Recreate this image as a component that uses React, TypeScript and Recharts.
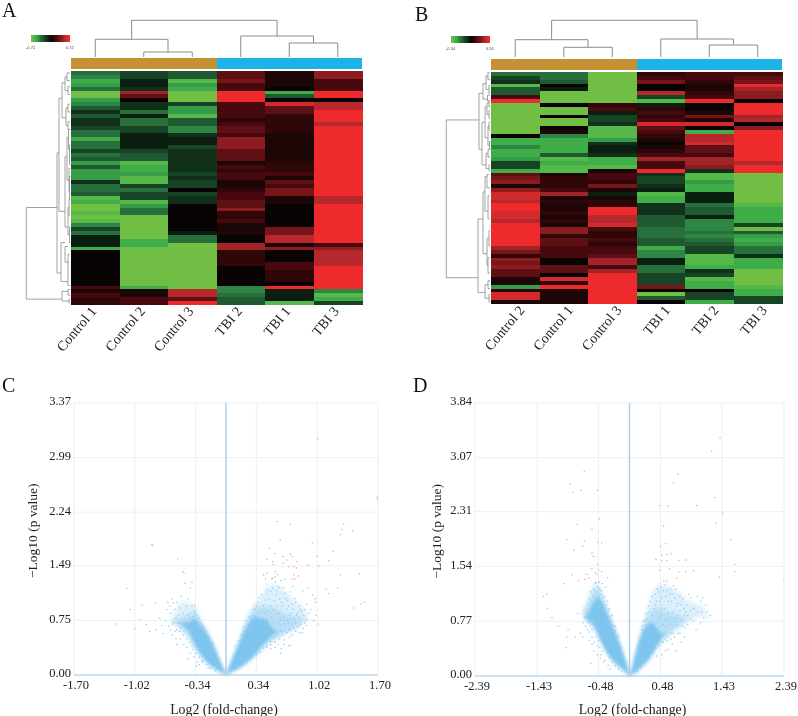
import React from "react";
import {
  Area,
  Bar,
  BarChart,
  CartesianGrid,
  Cell,
  ComposedChart,
  ReferenceLine,
  Scatter,
  ScatterChart,
  XAxis,
  YAxis,
} from "recharts";

const SERIF = '"Liberation Serif", serif';

// heat values run from -10 (full green) through 0 (black) to 10 (full red)
const heatRamp = [
  "#70bf44", "#55b848", "#3fae49", "#379c47", "#2e8644", "#27703b", "#205a32", "#184426", "#10301a", "#0a1f10",
  "#080404",
  "#1c0606", "#300708", "#47090d", "#5f1014", "#761619", "#8c1c20", "#a12428", "#b6282c", "#d22a2d", "#ee2a2d",
];
const legendSteps = [-10, -9, -8, -7, -6, -5, -4, -3, -2, -1, 0, 1, 2, 3, 4, 5, 6, 7, 8, 9, 10];
const groupColors: Record<string, string> = { Control: "#c49135", TBI: "#1cb4e8" };

const namesA = ["Control 1", "Control 2", "Control 3", "TBI 2", "TBI 1", "TBI 3"];
const groupsA = ["Control", "Control", "Control", "TBI", "TBI", "TBI"];
const a_control1 = [
  -5, -6, -8, -7, -5, -10, -10, -7, -6, -4,
  -2, -4, -2, -2, -3, -5, -5, -8, -5, -5,
  -3, -5, -4, -7, -4, -7, -7, -7, -2, -5,
  -5, -4, -9, -8, -10, -10, -9, -10, -9, -6,
  -3, -5, -1, -1, -1, -8, 0, 0, 0, 0,
  0, 0, 0, 0, 0, 3, 1, 3, 2, 2,
];
const a_control2 = [
  -3, -3, -1, -1, -2, 7, 4, 0, -2, -2,
  -5, -1, -5, -5, -3, -3, -1, -1, -1, -1,
  -3, -4, -4, -9, -8, -8, -7, -9, -9, -3,
  -5, -3, -3, -9, -7, -5, -5, -10, -10, -10,
  -10, -10, -10, -8, -8, -10, -10, -10, -10, -10,
  -10, -10, -10, -10, -10, -8, 1, 1, 3, 3,
];
const a_control3 = [
  -4, -4, -9, -7, -8, -10, -10, -10, -3, -7,
  -7, -9, -4, -4, -6, -6, -2, -1, -1, -3,
  -2, -2, -2, -2, -2, -2, -3, -2, -3, -3,
  0, -3, -2, -2, 0, 0, 0, 0, 0, 0,
  0, -1, -5, -5, -10, -10, -10, -10, -10, -10,
  -10, -10, -10, -10, -10, -10, 8, 8, 4, 10,
];
const a_tbi2 = [
  4, 4, 5, 3, 3, 10, 10, 10, 3, 3,
  3, 3, 2, 3, 4, 4, 3, 6, 6, 6,
  4, 4, 4, 1, 3, 2, 3, 3, 1, 1,
  2, 3, 3, 4, 4, 6, 2, 2, 3, 1,
  1, 1, 0, 0, 7, 7, 2, 2, 2, 2,
  0, 0, 0, 0, 0, -6, -6, -5, -4, -4,
];
const a_tbi1 = [
  1, 1, 1, 1, 0, -8, -4, 0, 9, 4,
  4, 2, 2, 2, 2, 2, 1, 1, 1, 1,
  1, 1, 1, 2, 2, 2, 3, 1, 4, 3,
  5, 5, 1, 1, 0, 0, 0, 0, 0, 0,
  5, 5, 8, 8, 1, 6, 0, 0, 0, 3,
  3, 2, 2, 2, 0, 10, -1, -1, -1, -9,
];
const a_tbi3 = [
  6, 6, 3, 3, 3, 10, 10, 0, 8, 8,
  10, 10, 10, 8, 10, 10, 10, 10, 10, 10,
  10, 10, 10, 10, 10, 10, 10, 10, 10, 10,
  10, 10, 8, 8, 10, 10, 10, 10, 10, 10,
  10, 10, 10, 10, 3, 6, 8, 8, 8, 8,
  10, 10, 10, 10, 10, 10, -6, -9, -8, -3,
];

const namesB = ["Control 2", "Control 1", "Control 3", "TBI 1", "TBI 2", "TBI 3"];
const groupsB = ["Control", "Control", "Control", "TBI", "TBI", "TBI"];
const b_control2 = [
  -5, -3, -2, -9, -4, -4, 3, 10, -10, -10,
  -10, -10, -10, -10, -10, -10, 0, -8, -8, -6,
  -8, -8, -7, -3, -3, -8, 4, 5, 6, 1,
  6, 9, 9, 8, 10, 10, 9, 9, 8, 10,
  10, 10, 10, 10, 10, 7, 5, 2, 6, 5,
  6, 4, 4, 1, 1, -7, 2, 9, 9, 1,
];
const b_control1 = [
  -5, -5, -4, 0, -1, -10, -10, -10, 0, -10,
  -10, 0, -10, -10, 0, 1, -6, -8, -8, -8,
  -8, -4, -9, -8, -9, -9, 1, 2, 2, 2,
  3, 7, 1, 2, 1, 1, 2, 1, 2, 1,
  6, 6, 2, 4, 4, 3, 3, 3, 0, 0,
  4, 4, 0, 9, 2, 10, 1, 1, 1, 1,
];
const b_control3 = [
  -10, -10, -10, -10, -10, -10, -10, -10, 2, 3,
  -1, -3, -3, -2, -9, -9, -9, -7, -2, -1,
  -1, -2, -8, -8, -9, 1, 3, 3, 2, 5,
  1, -1, 1, 2, 2, 10, 10, 8, 8, 9,
  3, 2, 2, 3, 2, 3, 3, 4, 7, 7,
  3, 7, 10, 10, 10, 10, 10, 10, 10, 10,
];
const b_tbi1 = [
  2, 3, 5, 0, 0, 8, -3, -9, -1, 2,
  3, 2, 3, 9, 4, 3, 2, 1, 0, 1,
  2, 3, 7, 3, 3, 10, -2, -3, -3, -2,
  -1, -9, -8, -8, -2, -2, -2, -4, -4, -4,
  -5, -5, -5, -4, -4, -8, -6, -6, -1, -1,
  -5, -5, -3, -3, -3, 5, 0, -10, -4, 0,
];
const b_tbi2 = [
  3, 3, 2, 1, 1, 2, 3, 10, 0, 0,
  1, 5, 1, 9, 0, -8, 8, 8, 9, 4,
  4, 3, 7, 7, 6, -2, -9, -9, -7, -8,
  -8, -1, -1, -1, -5, -4, -4, -1, -6, -6,
  -6, -5, -6, -5, -4, -3, -3, -9, -9, -9,
  -8, -2, -3, -9, -8, -8, 0, -3, -3, -8,
];
const b_tbi3 = [
  3, 4, 5, 10, 7, 6, 6, 0, 10, 10,
  10, 7, 8, 0, 6, 10, 10, 10, 10, 10,
  10, 10, 10, 8, 10, 10, -10, -10, -10, -10,
  -10, -10, -10, -10, -9, -8, -8, -8, -8, -3,
  -10, -4, -7, -8, -7, -5, -5, -2, -8, -8,
  -8, -10, -10, -10, -10, -9, -8, -8, -3, -3,
];

// column tree merges: left column, left height, right column, right height, merge height
const colTreeA = [
  [1, 0, 2, 0, 5],
  [0, 0, 1.5, 5, 17.7],
  [4, 0, 5, 0, 14],
  [3, 0, 4.5, 14, 21],
  [0.75, 17.7, 3.75, 21, 36.7],
];
const colTreeB = [
  [1, 0, 2, 0, 9.7],
  [0, 0, 1.5, 9.7, 17.3],
  [4, 0, 5, 0, 12],
  [3, 0, 4.5, 12, 18],
  [0.75, 17.3, 3.75, 18, 36.7],
];

// row tree merges: merge depth, upper row, lower row, upper child depth, lower child depth
const rowTreeA = [
  [44.7, 35, 58.5, 14, 9],
  [14, 21, 51.8, 12, 10],
  [12, 7, 36, 9, 6],
  [9, 3, 12, 6, 5],
  [6, 1.5, 5, 4, 3],
  [4, 0.5, 2.5, 1, 1],
  [3, 4, 6, 1, 1],
  [5, 9.5, 14, 3, 3],
  [3, 8.5, 10.5, 1, 1],
  [3, 13, 15, 1, 1],
  [6, 22, 40, 4, 3],
  [4, 17, 28, 2.5, 2],
  [2.5, 15, 20, 1, 1],
  [2, 25, 31, 1, 1],
  [3, 35, 42, 2, 1.5],
  [2, 33, 37, 1, 1],
  [1.5, 40, 44, 0.5, 0.5],
  [1.5, 19, 24, 0.5, 0.5],
  [1.5, 27, 33, 0.5, 0.5],
  [10, 44, 54, 6, 3],
  [6, 45, 49, 3, 2],
  [3, 47, 55, 1.5, 1.5],
  [9, 56.5, 59, 3, 2],
  [3, 56, 57.5, 1, 1],
  [2, 58.5, 59.5, 1, 1],
];
const rowTreeB = [
  [44.7, 12.4, 53.2, 12, 13],
  [12, 5.5, 20, 8, 9],
  [8, 3, 7, 5, 3.5],
  [5, 1, 4.5, 3, 2],
  [3, 0, 2, 1, 1],
  [2, 3.5, 5.5, 1, 1],
  [3.5, 6, 7.5, 1, 1],
  [9, 13, 24, 6, 5],
  [6, 9, 17, 4, 3],
  [4, 8, 11, 2, 2],
  [2, 7.5, 9, 1, 1],
  [2, 10, 12, 1, 1],
  [3, 14, 19, 2, 1.5],
  [2, 13, 15, 1, 1],
  [1.5, 18, 20, 0.5, 0.5],
  [5, 21, 25, 3, 2],
  [3, 20, 22, 1, 1],
  [2, 24, 25.5, 1, 1],
  [13, 38, 57, 8, 6],
  [8, 31, 47, 6, 4],
  [6, 27, 36, 4, 3],
  [4, 26.5, 30, 2, 1],
  [3, 32, 38, 1.5, 1.5],
  [4, 43, 50, 2, 3],
  [2, 41, 45, 1, 1],
  [3, 48, 52, 1.5, 1],
  [6, 55, 58.5, 3, 2],
  [3, 54, 56, 1, 1],
  [2, 57.5, 59.5, 1, 1],
];

// volcano C
const xTicksC = [-1.7, -1.02, -0.34, 0.34, 1.02, 1.7];
const yTicksC = [0, 0.75, 1.5, 2.24, 2.99, 3.74];
const yLabelsC = ["0.00", "0.75", "1.49", "2.24", "2.99", "3.37"];
const bandXC = [-0.62, -0.52, -0.42, -0.345, -0.29, -0.21, -0.14, -0.065, 0, 0.06, 0.13, 0.22, 0.3, 0.38, 0.45, 0.55, 0.65, 0.75, 0.85, 0.92];
const coreLowC = [0.75, 0.72, 0.62, 0.41, 0.3, 0.18, 0.11, 0.05, 0, 0.05, 0.09, 0.17, 0.25, 0.37, 0.46, 0.58, 0.62, 0.65, 0.68, 0.7];
const coreHighC = [0.75, 0.72, 0.72, 0.78, 0.69, 0.57, 0.41, 0.18, 0, 0.18, 0.39, 0.64, 0.8, 0.78, 0.76, 0.6, 0.62, 0.65, 0.68, 0.7];
const midLowC = [0.75, 0.68, 0.55, 0.38, 0.27, 0.16, 0.09, 0.04, 0, 0.04, 0.08, 0.15, 0.24, 0.34, 0.42, 0.5, 0.58, 0.63, 0.72, 0.8];
const midHighC = [0.75, 0.76, 0.82, 0.85, 0.74, 0.58, 0.41, 0.18, 0, 0.18, 0.4, 0.7, 0.9, 0.95, 0.95, 0.92, 0.85, 0.8, 0.76, 0.8];
const cloudLowC = [0.75, 0.62, 0.5, 0.36, 0.25, 0.15, 0.08, 0.03, 0, 0.03, 0.07, 0.14, 0.22, 0.32, 0.4, 0.48, 0.55, 0.62, 0.7, 0.8];
const cloudHighC = [0.75, 1.0, 1.0, 0.95, 0.8, 0.6, 0.42, 0.19, 0, 0.19, 0.42, 0.75, 0.95, 1.05, 1.2, 1.25, 1.15, 1.05, 0.95, 0.8];
const bluePointsC = [
  [0.42, 0.95], [0.36, 1.0], [0.33, 0.9], [0.3, 0.82], [0.45, 1.12], [0.48, 1.05], [0.52, 1.2], [0.55, 1.28], [0.58, 1.22], [0.61, 1.3],
  [0.5, 0.95], [0.56, 1.1], [0.6, 1.05], [0.64, 1.2], [0.66, 1.12], [0.69, 1.02], [0.72, 1.14], [0.63, 0.95], [0.68, 0.9], [0.74, 0.98],
  [0.78, 1.0], [0.82, 0.95], [0.85, 0.88], [0.87, 0.82], [0.8, 0.85], [0.76, 0.78], [0.71, 0.82], [0.65, 0.8], [0.6, 0.85], [0.57, 0.95],
  [0.43, 0.85], [0.39, 0.88], [0.47, 0.88], [0.53, 0.9], [0.35, 0.78], [0.27, 0.72], [0.25, 0.68], [0.22, 0.7], [0.19, 0.6], [0.29, 0.62],
  [0.38, 0.72], [0.44, 0.7], [0.52, 0.72], [0.58, 0.7], [0.62, 0.68], [0.66, 0.7], [0.7, 0.72], [0.74, 0.7], [0.78, 0.72], [0.83, 0.78],
  [0.88, 0.72], [0.9, 0.68], [0.86, 0.64], [0.8, 0.66], [0.72, 0.62], [0.68, 0.58], [0.63, 0.55], [0.74, 0.55], [0.78, 0.6], [0.85, 0.58],
  [0.6, 0.5], [0.55, 0.45], [0.5, 0.42], [0.65, 0.48], [0.71, 0.52], [0.58, 0.42], [0.62, 0.36], [0.7, 0.4], [0.72, 0.41], [0.61, 0.3],
  [0.82, 0.58], [0.95, 0.9], [0.98, 0.75], [1.01, 0.82], [1.0, 1.05], [0.97, 1.1], [0.92, 1.2], [1.12, 1.18], [1.0, 1.0], [1.25, 1.2],
  [1.15, 1.12], [1.43, 0.92], [1.55, 1.0], [1.51, 0.98], [0.9, 0.97], [0.93, 0.85], [0.45, 1.25], [0.52, 1.33], [0.58, 1.38], [0.66, 1.32],
  [0.75, 1.22], [0.86, 1.16], [1.03, 0.7],
  [0.1, 0.4], [0.14, 0.47], [0.17, 0.55], [0.2, 0.66], [0.23, 0.74], [0.26, 0.8], [0.31, 0.9], [0.34, 0.95], [0.37, 1.06], [0.4, 1.1],
  [0.44, 1.03], [0.46, 1.17], [0.5, 1.15], [0.54, 1.02], [0.57, 1.16], [0.6, 1.2], [0.62, 1.0], [0.67, 1.05], [0.7, 0.95], [0.75, 0.9],
  [0.77, 1.05], [0.81, 0.8], [0.84, 0.7], [0.88, 0.9], [0.83, 0.9], [0.79, 0.82], [0.73, 0.85], [0.69, 0.75], [0.64, 0.75], [0.61, 0.78],
  [0.56, 0.85], [0.51, 0.8], [0.46, 0.78], [0.41, 0.8], [0.37, 0.85], [0.33, 0.8], [0.3, 0.72], [0.26, 0.6], [0.3, 0.26], [0.34, 0.28],
  [0.38, 0.32], [0.42, 0.37], [0.46, 0.4], [0.5, 0.46], [0.54, 0.52], [0.58, 0.55], [0.62, 0.6], [0.66, 0.6], [0.7, 0.62], [0.76, 0.64],
  [0.82, 0.68], [0.9, 0.76], [0.12, 0.1], [0.18, 0.13], [0.24, 0.18], [0.28, 0.22], [0.35, 0.3], [0.45, 0.38], [0.5, 0.36], [0.55, 0.38],
  [0.65, 0.42],
  [-0.6, 1.05], [-0.59, 0.99], [-0.57, 0.9], [-0.55, 1.0], [-0.52, 0.92], [-0.5, 1.08], [-0.46, 1.26], [-0.38, 1.28], [-0.4, 1.2], [-0.42, 1.05],
  [-0.35, 0.96], [-0.36, 0.88], [-0.38, 0.95], [-0.44, 0.95], [-0.48, 0.85], [-0.53, 0.82], [-0.56, 0.78], [-0.6, 0.7], [-0.62, 0.85], [-0.64, 0.67],
  [-0.7, 0.57], [-0.74, 0.78], [-0.79, 0.99], [-0.89, 0.69], [-0.85, 0.6], [-0.94, 0.96], [-0.96, 0.76], [-1.02, 0.64], [-1.07, 0.9], [-1.23, 0.7],
  [-0.66, 0.9], [-0.63, 0.95], [-0.58, 0.72], [-0.55, 0.62], [-0.52, 0.6], [-0.48, 0.55], [-0.56, 0.5], [-0.6, 0.55], [-0.47, 0.42], [-0.44, 0.38],
  [-0.4, 0.3], [-0.36, 0.25], [-0.42, 0.22], [-0.32, 0.18], [-0.3, 0.14], [-0.35, 0.85], [-0.4, 0.85], [-0.43, 0.82], [-0.46, 0.78], [-0.3, 0.78],
  [-0.28, 0.72], [-0.25, 0.66], [-0.22, 0.6], [-0.18, 0.5], [-0.15, 0.44], [-0.5, 0.7], [-0.54, 0.72], [-0.45, 0.66], [-0.2, 0.1], [-0.27, 0.2],
  [-0.38, 0.4],
  [-0.08, 0.22], [-0.11, 0.3], [-0.16, 0.42], [-0.2, 0.52], [-0.24, 0.63], [-0.27, 0.68], [-0.31, 0.74], [-0.33, 0.82], [-0.37, 0.8], [-0.41, 0.78],
  [-0.45, 0.72], [-0.49, 0.78], [-0.51, 0.65], [-0.47, 0.6], [-0.44, 0.5], [-0.4, 0.45], [-0.37, 0.35], [-0.43, 0.62], [-0.39, 0.58], [-0.34, 0.3],
  [-0.3, 0.24], [-0.26, 0.18], [-0.22, 0.14], [-0.17, 0.09], [-0.12, 0.06], [-0.51, 0.5], [-0.53, 0.72], [-0.57, 0.6], [-0.62, 0.62], [-0.68, 0.75],
  [-0.72, 0.68], [-0.65, 1.0], [-0.78, 0.62], [-0.55, 0.42], [-0.33, 0.12],
];
const redPointsC = [
  [1.024, 3.25], [1.696, 2.45], [1.69, 2.42], [1.315, 2.08], [1.297, 2.0], [1.28, 1.93], [1.416, 1.98], [0.569, 2.11], [0.718, 2.07], [0.606, 1.86],
  [0.965, 1.82], [1.2, 1.7], [0.487, 1.74], [0.55, 1.67], [0.46, 1.59], [0.52, 1.56], [0.53, 1.52], [0.64, 1.63], [0.72, 1.66], [0.74, 1.63],
  [0.68, 1.58], [0.64, 1.54], [0.7, 1.49], [0.76, 1.49], [0.79, 1.56], [0.92, 1.51], [1.02, 1.63], [1.04, 1.5], [1.15, 1.57], [1.28, 1.38],
  [1.49, 1.39], [0.46, 1.4], [0.42, 1.38], [0.55, 1.42], [0.55, 1.35], [0.51, 1.32], [0.44, 1.32], [0.76, 1.38], [0.79, 1.47], [0.74, 1.32],
  [0.77, 1.32], [0.81, 1.36], [-0.83, 1.79], [-0.82, 1.78], [-0.54, 1.6], [-0.483, 1.42], [-0.47, 1.4], [-1.11, 1.19],
];

// volcano D
const xTicksD = [-2.39, -1.43, -0.48, 0.48, 1.43, 2.39];
const yTicksD = [0, 0.77, 1.54, 2.31, 3.07, 3.84];
const yLabelsD = ["0.00", "0.77", "1.54", "2.31", "3.07", "3.84"];
const bandXD = [-0.72, -0.65, -0.55, -0.47, -0.4, -0.3, -0.2, -0.1, -0.04, 0, 0.05, 0.12, 0.2, 0.28, 0.36, 0.44, 0.5, 0.6, 0.75, 0.9, 1.1, 1.25];
const coreLowD = [0.85, 0.8, 0.72, 0.55, 0.42, 0.27, 0.17, 0.1, 0.04, 0, 0.03, 0.07, 0.15, 0.22, 0.33, 0.45, 0.55, 0.6, 0.7, 0.8, 0.85, 0.8];
const coreHighD = [0.85, 0.85, 1.05, 1.12, 1.0, 0.78, 0.57, 0.31, 0.15, 0, 0.13, 0.4, 0.62, 0.72, 0.75, 0.65, 0.58, 0.6, 0.7, 0.8, 0.85, 0.8];
const midLowD = [0.9, 0.75, 0.65, 0.55, 0.4, 0.26, 0.15, 0.09, 0.03, 0, 0.02, 0.06, 0.14, 0.21, 0.32, 0.42, 0.5, 0.58, 0.68, 0.78, 0.85, 0.8];
const midHighD = [0.9, 1.0, 1.2, 1.22, 1.05, 0.82, 0.58, 0.32, 0.15, 0, 0.14, 0.41, 0.68, 0.85, 0.95, 0.95, 0.95, 0.9, 0.85, 0.8, 0.85, 0.8];
const cloudLowD = [0.9, 0.78, 0.68, 0.6, 0.42, 0.25, 0.14, 0.08, 0.03, 0, 0.02, 0.06, 0.13, 0.2, 0.3, 0.4, 0.48, 0.58, 0.68, 0.78, 0.85, 0.8];
const cloudHighD = [0.9, 1.1, 1.3, 1.3, 1.1, 0.85, 0.6, 0.33, 0.16, 0, 0.15, 0.42, 0.7, 0.95, 1.2, 1.28, 1.28, 1.25, 1.2, 1.05, 1.0, 0.8];
const bluePointsD = [
  [-0.52, 1.3], [-0.47, 1.32], [-0.42, 1.3], [-0.37, 1.25], [-0.56, 1.22], [-0.6, 1.18], [-0.5, 1.18], [-0.44, 1.2], [-0.38, 1.12], [-0.34, 1.05],
  [-0.31, 0.95], [-0.62, 1.08], [-0.65, 1.0], [-0.58, 1.0], [-0.54, 1.1], [-0.67, 0.9], [-0.7, 0.82], [-0.64, 0.82], [-0.6, 0.88], [-0.56, 0.8],
  [-0.72, 0.75], [-0.76, 0.6], [-0.8, 0.88], [-0.84, 0.55], [-0.95, 0.65], [-0.98, 0.4], [-0.97, 0.55], [-1.2, 0.82], [-1.28, 1.15], [-1.33, 1.12],
  [-1.27, 0.95], [-1.1, 0.7], [-0.62, 0.5], [-0.58, 0.45], [-0.55, 0.35], [-0.5, 0.3], [-0.46, 0.4], [-0.45, 0.25], [-0.38, 0.22], [-0.33, 0.15],
  [-0.6, 0.18], [-0.58, 0.65], [-0.52, 0.55], [-0.27, 0.85], [-0.22, 0.7], [-0.17, 0.55], [-0.13, 0.4], [-0.65, 0.65], [-0.42, 0.35], [-0.48, 0.5],
  [-0.68, 0.7], [-0.72, 0.55],
  [-0.07, 0.2], [-0.12, 0.35], [-0.15, 0.45], [-0.18, 0.58], [-0.22, 0.64], [-0.25, 0.72], [-0.28, 0.78], [-0.3, 0.83], [-0.33, 0.92], [-0.36, 1.0],
  [-0.39, 1.05], [-0.41, 1.1], [-0.43, 1.15], [-0.46, 1.22], [-0.49, 1.25], [-0.53, 1.2], [-0.57, 1.12], [-0.6, 1.05], [-0.62, 0.95], [-0.63, 0.75],
  [-0.59, 0.8], [-0.55, 0.72], [-0.52, 0.68], [-0.49, 0.62], [-0.45, 0.56], [-0.42, 0.48], [-0.38, 0.4], [-0.35, 0.32], [-0.31, 0.26], [-0.27, 0.2],
  [-0.22, 0.14], [-0.17, 0.1], [-0.12, 0.07], [-0.44, 0.3], [-0.5, 0.42], [-0.54, 0.48], [-0.58, 0.55], [-0.62, 0.62], [-0.4, 0.2], [-0.3, 0.1],
  [0.48, 1.25], [0.45, 1.18], [0.5, 1.1], [0.55, 1.28], [0.42, 1.05], [0.38, 0.95], [0.35, 0.85], [0.3, 0.9], [0.27, 0.8], [0.58, 1.2],
  [0.62, 1.15], [0.65, 1.05], [0.68, 1.27], [0.72, 1.22], [0.78, 1.12], [0.82, 1.08], [0.88, 1.0], [0.92, 1.15], [0.95, 1.1], [1.05, 1.12],
  [1.1, 1.05], [1.13, 1.1], [1.18, 1.0], [1.25, 0.85], [1.15, 0.82], [1.1, 0.75], [1.0, 0.78], [0.95, 0.92], [0.85, 0.85], [0.78, 0.92],
  [0.72, 0.98], [0.66, 0.9], [0.6, 0.88], [0.54, 0.95], [0.5, 0.85], [0.46, 0.82], [0.42, 0.75], [0.55, 0.78], [0.62, 0.72], [0.68, 0.7],
  [0.74, 0.72], [0.8, 0.78], [0.86, 0.68], [0.9, 0.72], [0.7, 0.55], [0.64, 0.52], [0.58, 0.5], [0.52, 0.48], [0.66, 0.45], [0.6, 0.38],
  [0.75, 0.6], [0.85, 0.55], [0.8, 0.48], [0.72, 0.35], [0.4, 1.0], [0.33, 0.72], [0.24, 0.72], [0.2, 0.65], [0.36, 0.62], [0.44, 0.58],
  [0.5, 0.62], [1.03, 0.65],
  [0.08, 0.25], [0.13, 0.42], [0.16, 0.5], [0.2, 0.7], [0.23, 0.78], [0.26, 0.88], [0.29, 0.98], [0.32, 1.05], [0.35, 1.12], [0.4, 1.15],
  [0.43, 1.22], [0.47, 1.05], [0.52, 1.2], [0.56, 1.12], [0.6, 1.05], [0.63, 1.22], [0.66, 1.15], [0.7, 1.1], [0.75, 1.02], [0.8, 1.0],
  [0.84, 0.95], [0.87, 0.9], [0.9, 0.85], [0.95, 0.8], [1.0, 0.95], [1.05, 0.9], [1.12, 0.9], [1.2, 0.9], [0.58, 0.8], [0.62, 0.82],
  [0.7, 0.82], [0.75, 0.85], [0.82, 0.7], [0.78, 0.6], [0.68, 0.6], [0.62, 0.6], [0.56, 0.62], [0.52, 0.72], [0.47, 0.7], [0.43, 0.65],
  [0.38, 0.68], [0.34, 0.6], [0.3, 0.55], [0.25, 0.2], [0.3, 0.26], [0.35, 0.33], [0.4, 0.4], [0.45, 0.44], [0.5, 0.48], [0.55, 0.52],
  [0.6, 0.55], [0.65, 0.6], [0.18, 0.12], [0.12, 0.06], [0.42, 0.28], [0.5, 0.3], [0.56, 0.36],
];
const redPointsD = [
  [1.4, 3.35], [1.27, 3.16], [0.75, 2.84], [0.68, 2.72], [1.32, 2.51], [1.04, 2.4], [0.47, 2.39], [0.59, 2.39], [1.44, 2.29], [1.34, 2.15],
  [0.53, 2.11], [1.57, 1.92], [0.56, 1.86], [0.48, 1.82], [0.5, 1.7], [0.58, 1.71], [0.64, 1.72], [0.41, 1.64], [0.5, 1.62], [0.58, 1.62],
  [0.76, 1.62], [0.87, 1.63], [1.63, 1.57], [1.63, 1.47], [0.47, 1.49], [0.62, 1.51], [0.87, 1.47], [0.99, 1.48], [0.76, 1.46], [1.39, 1.39],
  [0.73, 1.38], [0.58, 1.33], [0.53, 1.34], [2.39, 1.34],
  [-0.7, 2.88], [-0.92, 2.7], [-0.88, 2.58], [-0.75, 2.61], [-0.49, 2.61], [-0.47, 2.21], [-0.81, 2.13], [-0.58, 2.08], [-0.97, 1.92], [-0.7, 1.9],
  [-0.49, 1.88], [-0.43, 1.87], [-0.72, 1.83], [-0.86, 1.77], [-0.58, 1.73], [-0.56, 1.68], [-0.49, 1.57], [-0.58, 1.51], [-0.48, 1.49], [-0.43, 1.47],
  [-0.53, 1.46], [-0.66, 1.43], [-0.51, 1.43], [-0.89, 1.42], [-0.34, 1.38], [-0.63, 1.38], [-0.69, 1.36], [-0.79, 1.34], [-1.02, 1.3], [-0.53, 1.32],
  [-0.48, 1.32],
];

const noDot = () => <g />;

function ColumnTree({ merges, left, top }: { merges: number[][]; left: number; top: number }) {
  return (
    <div style={{ position: "absolute", left, top }}>
      <ScatterChart width={291} height={42} margin={{ top: 0, right: 0, bottom: 0, left: 0 }}>
        <XAxis type="number" dataKey="x" domain={[-0.5, 5.5]} hide />
        <YAxis type="number" dataKey="y" domain={[0, 42]} hide />
        {merges.map(([x1, h1, x2, h2, h], i) => (
          <Scatter
            key={i}
            data={[{ x: x1, y: h1 }, { x: x1, y: h }, { x: x2, y: h }, { x: x2, y: h2 }]}
            line={{ stroke: "#8c8c8c", strokeWidth: 1 }}
            lineType="joint"
            shape={noDot}
            isAnimationActive={false}
          />
        ))}
      </ScatterChart>
    </div>
  );
}

function RowTree({ merges, left, top, height }: { merges: number[][]; left: number; top: number; height: number }) {
  return (
    <div style={{ position: "absolute", left, top }}>
      <ScatterChart width={49} height={height} margin={{ top: 0, right: 0, bottom: 0, left: 0 }}>
        <XAxis type="number" dataKey="x" domain={[0, 49]} reversed hide />
        <YAxis type="number" dataKey="y" domain={[0, 60]} reversed hide />
        {merges.map(([d, r1, r2, d1, d2], i) => (
          <Scatter
            key={i}
            data={[{ x: d1, y: r1 }, { x: d, y: r1 }, { x: d, y: r2 }, { x: d2, y: r2 }]}
            line={{ stroke: "#8c8c8c", strokeWidth: 0.8 }}
            lineType="joint"
            shape={noDot}
            isAnimationActive={false}
          />
        ))}
      </ScatterChart>
    </div>
  );
}

const slantTick = (shift: number) => ({ x, y, payload }: any) => (
  <text
    transform={`translate(${x + shift},${y - 4}) rotate(-50)`}
    textAnchor="end"
    fontFamily={SERIF}
    fontSize={14}
    fill="#222"
    dy={4}
  >
    {payload.value}
  </text>
);

function Heatmap(p: { names: string[]; columns: number[][]; left: number; top: number; height: number; labelShift: number }) {
  const rowKeys = p.columns[0].map((_, r) => `r${r}`);
  const table = p.names.map((name) => {
    const row: Record<string, any> = { name };
    rowKeys.forEach((k) => (row[k] = 1));
    return row;
  });
  return (
    <div style={{ position: "absolute", left: p.left - 40, top: p.top }}>
      <BarChart
        width={343}
        height={p.height + 62}
        data={table}
        barCategoryGap={0}
        margin={{ top: 0, right: 12, bottom: 0, left: 40 }}
      >
        <XAxis dataKey="name" interval={0} axisLine={false} tickLine={false} height={62} tick={slantTick(p.labelShift)} />
        <YAxis type="number" domain={[0, 60]} reversed hide />
        {rowKeys.map((k, r) => (
          <Bar key={k} dataKey={k} stackId="heat" isAnimationActive={false} shapeRendering="crispEdges">
            {p.names.map((_, c) => (
              <Cell key={c} fill={heatRamp[p.columns[c][r] + 10]} />
            ))}
          </Bar>
        ))}
      </BarChart>
    </div>
  );
}

function GroupStrip({ groups, left, top }: { groups: string[]; left: number; top: number }) {
  const table = groups.map((group, i) => ({ i, group, v: 1 }));
  return (
    <div style={{ position: "absolute", left, top }}>
      <BarChart width={291} height={11} data={table} barCategoryGap={0} margin={{ top: 0, right: 0, bottom: 0, left: 0 }}>
        <XAxis dataKey="i" hide />
        <YAxis domain={[0, 1]} hide />
        <Bar dataKey="v" isAnimationActive={false} shapeRendering="crispEdges">
          {table.map((d) => (
            <Cell key={d.i} fill={groupColors[d.group]} />
          ))}
        </Bar>
      </BarChart>
    </div>
  );
}

function ColorKey({ low, high, left, top }: { low: string; high: string; left: number; top: number }) {
  const table = legendSteps.map((v) => ({ step: v, v: 1 }));
  const small: React.CSSProperties = { position: "absolute", top: 10, fontSize: 4, color: "#444", fontFamily: "Arial, sans-serif" };
  return (
    <div style={{ position: "absolute", left, top }}>
      <BarChart width={39} height={7} data={table} barCategoryGap={0} margin={{ top: 0, right: 0, bottom: 0, left: 0 }}>
        <XAxis dataKey="step" hide />
        <YAxis domain={[0, 1]} hide />
        <Bar dataKey="v" isAnimationActive={false} shapeRendering="crispEdges">
          {table.map((d, i) => (
            <Cell key={i} fill={heatRamp[d.step + 10]} />
          ))}
        </Bar>
      </BarChart>
      <span style={{ ...small, left: -5 }}>{low}</span>
      <span style={{ ...small, left: 35 }}>{high}</span>
    </div>
  );
}

const tinyDot = (fill: string) => (props: any) => <circle cx={props.cx} cy={props.cy} r={0.75} fill={fill} />;

type VolcanoProps = {
  left: number;
  width: number;
  plotLeft: number;
  plotRight: number;
  bottom: number;
  titleOffset: number;
  xTitleShift: number;
  xTicks: number[];
  yTicks: number[];
  yLabels: string[];
  bandX: number[];
  coreLow: number[];
  coreHigh: number[];
  midLow: number[];
  midHigh: number[];
  cloudLow: number[];
  cloudHigh: number[];
  blue: number[][];
  red: number[][];
};

function Volcano(p: VolcanoProps) {
  const bands = p.bandX.map((x, i) => ({
    x,
    core: [p.coreLow[i], p.coreHigh[i]],
    mid: [p.midLow[i], p.midHigh[i]],
    cloud: [p.cloudLow[i], p.cloudHigh[i]],
  }));
  const toPoints = (list: number[][]) => list.map(([x, y]) => ({ x, y }));
  const tick = { fontFamily: SERIF, fontSize: 12.5, fill: "#222" };
  const xMax = p.xTicks[p.xTicks.length - 1];
  const yMax = p.yTicks[p.yTicks.length - 1];
  return (
    <div style={{ position: "absolute", left: p.left, top: 390 }}>
      <ComposedChart
        width={p.width}
        height={326}
        data={bands}
        margin={{ top: 13, right: p.plotRight, bottom: 0, left: 0 }}
      >
        <CartesianGrid stroke="#e6edf3" strokeWidth={0.8} />
        <XAxis
          type="number"
          dataKey="x"
          domain={[-xMax, xMax]}
          ticks={p.xTicks}
          tickFormatter={(v: number) => v.toFixed(2)}
          interval={0}
          allowDataOverflow
          height={p.bottom}
          tick={{ ...tick, dx: 2 }}
          tickLine={false}
          tickSize={0}
          tickMargin={5}
          axisLine={{ stroke: "#a9c8e2", strokeWidth: 1.2 }}
          label={{ value: "Log2 (fold-change)", position: "insideBottom", offset: 2, dx: p.xTitleShift, fontFamily: SERIF, fontSize: 13.8, fill: "#222" }}
        />
        <YAxis
          type="number"
          domain={[0, yMax]}
          ticks={p.yTicks}
          tickFormatter={(v: number) => p.yLabels[p.yTicks.indexOf(v)]}
          interval={0}
          width={p.plotLeft}
          tick={{ ...tick, dy: -2 }}
          tickLine={false}
          tickSize={0}
          tickMargin={3}
          axisLine={false}
          label={{ value: "\u2212Log10 (p value)", angle: -90, position: "insideLeft", offset: p.titleOffset, dy: 39, fontFamily: SERIF, fontSize: 13.5, fill: "#222" }}
        />
        <Area dataKey="cloud" type="linear" stroke="none" fill="#8ccbf0" fillOpacity={0.3} style={{ filter: "blur(2px)" }} isAnimationActive={false} dot={false} activeDot={false} />
        <Area dataKey="mid" type="linear" stroke="none" fill="#8ccbf0" fillOpacity={0.45} style={{ filter: "blur(2px)" }} isAnimationActive={false} dot={false} activeDot={false} />
        <Area dataKey="core" type="linear" stroke="none" fill="#7dc4ee" fillOpacity={1} style={{ filter: "blur(1.5px)" }} isAnimationActive={false} dot={false} activeDot={false} />
        <ReferenceLine x={0} stroke="#a9c8e2" strokeWidth={1.3} />
        <Scatter data={toPoints(p.blue)} dataKey="y" shape={tinyDot("#8ccbf0")} isAnimationActive={false} />
        <Scatter data={toPoints(p.red)} dataKey="y" shape={tinyDot("#f0a48f")} isAnimationActive={false} />
      </ComposedChart>
    </div>
  );
}

function PanelLetter({ text, left, baseline }: { text: string; left: number; baseline: number }) {
  return (
    <div style={{ position: "absolute", left, top: baseline - 17, fontFamily: SERIF, fontSize: 20, lineHeight: "20px", color: "#111" }}>
      {text}
    </div>
  );
}

export default function App() {
  return (
    <div style={{ position: "absolute", left: 0, top: 0, width: 798, height: 716, background: "#fff", overflow: "hidden", filter: "blur(0.35px)" }}>
      <PanelLetter text="A" left={2} baseline={17} />
      <PanelLetter text="B" left={415} baseline={21} />
      <PanelLetter text="C" left={2} baseline={392} />
      <PanelLetter text="D" left={413} baseline={392} />

      <ColorKey low="-0.72" high="0.72" left={31} top={35} />
      <ColumnTree merges={colTreeA} left={71} top={15} />
      <GroupStrip groups={groupsA} left={71} top={58} />
      <RowTree merges={rowTreeA} left={22} top={71} height={234} />
      <Heatmap names={namesA} columns={[a_control1, a_control2, a_control3, a_tbi2, a_tbi1, a_tbi3]} left={71} top={71} height={234} labelShift={-1} />

      <ColorKey low="-0.54" high="0.54" left={451} top={36} />
      <ColumnTree merges={colTreeB} left={491} top={15} />
      <GroupStrip groups={groupsB} left={491} top={59} />
      <RowTree merges={rowTreeB} left={442} top={72} height={232} />
      <Heatmap names={namesB} columns={[b_control2, b_control1, b_control3, b_tbi1, b_tbi2, b_tbi3]} left={491} top={72} height={232} labelShift={7} />

      <Volcano
        left={0}
        width={395}
        plotLeft={74}
        plotRight={17}
        bottom={41}
        titleOffset={32}
        xTitleShift={-2}
        xTicks={xTicksC}
        yTicks={yTicksC}
        yLabels={yLabelsC}
        bandX={bandXC}
        coreLow={coreLowC}
        coreHigh={coreHighC}
        midLow={midLowC}
        midHigh={midHighC}
        cloudLow={cloudLowC}
        cloudHigh={cloudHighC}
        blue={bluePointsC}
        red={redPointsC}
      />
      <Volcano
        left={400}
        width={398}
        plotLeft={75}
        plotRight={14}
        bottom={40}
        titleOffset={36}
        xTitleShift={3}
        xTicks={xTicksD}
        yTicks={yTicksD}
        yLabels={yLabelsD}
        bandX={bandXD}
        coreLow={coreLowD}
        coreHigh={coreHighD}
        midLow={midLowD}
        midHigh={midHighD}
        cloudLow={cloudLowD}
        cloudHigh={cloudHighD}
        blue={bluePointsD}
        red={redPointsD}
      />
    </div>
  );
}
